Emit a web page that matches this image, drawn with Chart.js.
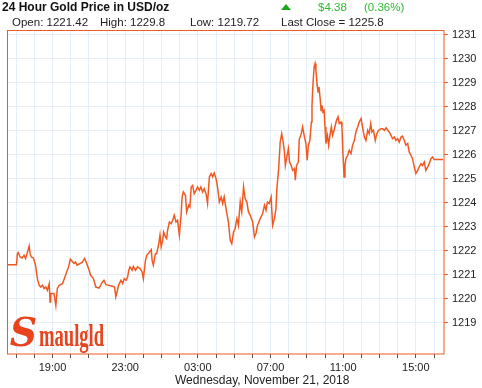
<!DOCTYPE html>
<html><head><meta charset="utf-8">
<script src="https://cdn.jsdelivr.net/npm/chart.js@4.4.0/dist/chart.umd.min.js"></script>
<style>
body{margin:0;background:#fff;}
#wrap{position:relative;width:482px;height:388px;font-family:"Liberation Sans",Arial,sans-serif;color:#222;overflow:hidden;}
canvas{position:absolute;left:0;top:0;}
.t{position:absolute;white-space:nowrap;}
</style></head><body>
<div id="wrap">
<canvas id="c" width="482" height="388"></canvas>
<div class="t" style="left:2px;top:0px;font:bold 12px/15px 'Liberation Sans';color:#111;">24 Hour Gold Price in USD/oz</div>
<div class="t" style="left:281px;top:4px;width:0;height:0;border-left:5px solid transparent;border-right:5px solid transparent;border-bottom:6px solid #1aa51a;"></div>
<div class="t" style="left:318px;top:0px;font:11.5px/15px 'Liberation Sans';color:#2eb82e;">$4.38</div>
<div class="t" style="left:364px;top:0px;font:11.5px/15px 'Liberation Sans';color:#2eb82e;">(0.36%)</div>
<div class="t" style="left:12px;top:15px;font:11.5px/15px 'Liberation Sans';color:#222;">Open: 1221.42</div>
<div class="t" style="left:100px;top:15px;font:11.5px/15px 'Liberation Sans';color:#222;">High: 1229.8</div>
<div class="t" style="left:190px;top:15px;font:11.5px/15px 'Liberation Sans';color:#222;">Low: 1219.72</div>
<div class="t" style="left:281px;top:15px;font:11.5px/15px 'Liberation Sans';color:#222;">Last Close = 1225.8</div>
<div class="t" style="left:175px;top:373px;width:168px;text-align:center;font:12px/14px 'Liberation Sans';color:#222;">Wednesday, November 21, 2018</div>
<div class="t" style="left:9px;top:313px;color:#e8431c;">
  <span style="display:inline-block;font:italic bold 40px/38px 'DejaVu Serif';transform:scaleX(0.95);">S</span><span style="display:inline-block;font:bold 31px/38px 'Liberation Serif';transform:scaleX(0.6);transform-origin:0 50%;margin-left:1px;">maulgld</span>
</div>
</div>
<script>
const times = ["16:30","17:01","17:04","17:07","17:13","17:20","17:26","17:31","17:37","17:43","17:46","17:50","17:57","18:04","18:10","18:16","18:21","18:27","18:32","18:38","18:43","18:49","18:52","18:54","19:00","19:05","19:11","19:16","19:22","19:33","19:43","19:53","19:59","20:11","20:16","20:21","20:39","20:46","20:53","21:01","21:06","21:15","21:23","21:34","21:45","21:50","21:56","22:07","22:18","22:25","22:29","22:32","22:38","22:46","22:52","22:57","23:03","23:08","23:12","23:16","23:23","23:27","23:34","23:41","23:49","23:56","00:00","00:07","00:11","00:18","00:26","00:29","00:33","00:40","00:44","00:51","00:55","00:59","01:04","01:07","01:13","01:17","01:20","01:26","01:32","01:37","01:42","01:48","01:53","01:59","02:05","02:08","02:12","02:19","02:23","02:30","02:34","02:38","02:43","02:48","02:54","02:59","03:05","03:10","03:16","03:21","03:27","03:32","03:38","03:44","03:49","03:54","04:00","04:05","04:11","04:17","04:22","04:27","04:33","04:41","04:47","04:52","04:58","05:03","05:09","05:14","05:20","05:25","05:31","05:36","05:42","05:47","05:53","06:01","06:07","06:12","06:17","06:26","06:34","06:40","06:45","06:50","06:56","07:02","07:07","07:13","07:18","07:21","07:27","07:32","07:37","07:41","07:46","07:49","07:53","07:59","08:03","08:08","08:13","08:19","08:22","08:26","08:32","08:35","08:41","08:46","08:52","08:57","09:01","09:05","09:10","09:15","09:17","09:20","09:24","09:27","09:30","09:34","09:37","09:40","09:44","09:47","09:50","09:53","09:57","10:00","10:03","10:08","10:12","10:17","10:21","10:25","10:30","10:34","10:38","10:43","10:47","10:53","10:56","10:59","11:03","11:06","11:09","11:15","11:20","11:26","11:31","11:37","11:42","11:48","11:53","11:59","12:04","12:10","12:15","12:21","12:26","12:31","12:35","12:40","12:46","12:51","12:57","13:05","13:10","13:16","13:22","13:27","13:32","13:38","13:43","13:49","13:54","14:00","14:05","14:11","14:16","14:22","14:27","14:33","14:38","14:44","14:49","14:55","15:00","15:06","15:11","15:17","15:22","15:28","15:33","15:39","15:44","15:50","15:55","16:01","16:30"];
const prices = [1221.42,1221.42,1221.88,1221.93,1221.74,1221.70,1221.81,1221.68,1221.93,1222.20,1221.88,1221.74,1221.70,1221.40,1220.84,1220.56,1220.49,1220.56,1220.43,1220.49,1220.35,1220.63,1219.87,1220.23,1220.22,1220.22,1219.72,1220.43,1220.56,1220.63,1220.98,1221.33,1221.65,1221.47,1221.53,1221.40,1221.53,1221.68,1221.47,1221.19,1220.98,1220.84,1220.49,1220.45,1220.70,1220.77,1220.59,1220.56,1220.52,1220.49,1220.08,1220.22,1220.56,1220.77,1220.63,1220.84,1220.77,1220.91,1221.19,1221.33,1221.19,1221.35,1221.19,1221.33,1221.26,1221.12,1220.84,1221.60,1221.81,1221.91,1222.05,1221.60,1221.40,1221.88,1221.88,1222.30,1222.65,1222.16,1222.44,1222.78,1222.58,1222.51,1222.85,1223.20,1223.13,1223.27,1223.48,1223.20,1223.27,1222.65,1223.55,1224.24,1224.45,1224.31,1223.62,1223.90,1223.83,1224.66,1224.73,1224.38,1224.52,1224.66,1224.52,1224.66,1224.45,1224.59,1224.38,1223.97,1225.08,1225.22,1225.08,1225.24,1225.01,1224.66,1224.03,1224.24,1223.97,1224.25,1223.76,1223.20,1222.44,1222.30,1222.78,1222.93,1223.34,1223.06,1224.03,1223.62,1224.66,1224.18,1224.03,1223.62,1223.48,1223.20,1222.58,1222.72,1223.06,1223.34,1223.55,1223.90,1223.69,1224.03,1223.97,1224.24,1223.06,1223.34,1223.76,1224.59,1225.43,1226.53,1226.88,1226.60,1226.12,1225.56,1225.84,1226.26,1225.70,1225.56,1225.35,1225.43,1224.94,1225.56,1225.70,1226.65,1226.85,1227.16,1226.75,1226.47,1225.77,1226.40,1226.60,1227.37,1228.06,1228.90,1229.66,1229.80,1229.52,1228.90,1228.62,1228.83,1228.34,1227.85,1228.06,1227.78,1227.85,1227.16,1226.47,1226.81,1226.40,1226.88,1227.16,1226.81,1227.02,1227.23,1227.44,1227.58,1227.30,1227.37,1227.16,1226.12,1225.08,1225.56,1225.84,1225.98,1226.19,1226.05,1226.40,1226.60,1226.95,1227.16,1227.37,1227.51,1227.16,1226.74,1226.60,1227.02,1226.88,1227.30,1226.95,1227.02,1226.60,1226.88,1227.02,1227.09,1227.09,1227.02,1227.12,1227.02,1226.95,1226.81,1226.68,1226.74,1226.60,1226.68,1226.53,1226.74,1226.78,1226.60,1226.40,1226.47,1226.12,1225.98,1225.84,1225.49,1225.22,1225.35,1225.49,1225.63,1225.56,1225.70,1225.35,1225.49,1225.63,1225.84,1225.91,1225.80,1225.80];
const xTickHours = [17,18,19,20,21,22,23,24,25,26,27,28,29,30,31,32,33,34,35,36,37,38,39,40];
const xLabelHours = [19,23,27,31,35,39];
const yTicks = [1219,1220,1221,1222,1223,1224,1225,1226,1227,1228,1229,1230,1231];
const xMin = 16.55, xMax = 40.55, yMin = 1217.7, yMax = 1231.2;

// convert clock times to continuous hours (rolling past midnight)
const hours = [];
let prev = -1, dayAdd = 0;
times.forEach(t => {
  const [h, m] = t.split(':').map(Number);
  let v = h + m / 60 + dayAdd;
  if (v < prev) { dayAdd += 24; v += 24; }
  hours.push(v); prev = v;
});
const points = hours.map((h, i) => ({x: h, y: prices[i]}));

const ORANGE = '#ee5b24';
const borderPlugin = {
  id: 'frame',
  afterDraw(chart) {
    const {ctx, chartArea: a} = chart;
    ctx.save();
    ctx.strokeStyle = ORANGE;
    ctx.lineWidth = 1;
    ctx.strokeRect(a.left - 0.5, a.top + 0.5, a.right - a.left + 0.5, a.bottom - a.top - 0.5);
    ctx.restore();
  }
};

Chart.defaults.font.family = "'Liberation Sans', Arial, sans-serif";
new Chart(document.getElementById('c'), {
  type: 'line',
  data: { datasets: [{
    data: points,
    borderColor: '#f05a22',
    borderWidth: 1.5,
    pointRadius: 0,
    tension: 0,
    fill: false
  }]},
  options: {
    responsive: false,
    animation: false,
    layout: { padding: { left: 8, top: 30, right: 0, bottom: 0 } },
    plugins: { legend: { display: false }, tooltip: { enabled: false } },
    scales: {
      x: {
        type: 'linear', min: xMin, max: xMax,
        afterFit(s) { s.height = 34; },
        afterBuildTicks(s) { s.ticks = xTickHours.map(v => ({value: v})); },
        border: { display: false },
        grid: { color: '#e4eef8', lineWidth: 1, tickColor: '#555', tickLength: 4 },
        ticks: {
          autoSkip: false, maxRotation: 0, padding: 3,
          color: '#222', font: { size: 11 },
          callback(v) {
            if (!xLabelHours.includes(v)) return '';
            const h = v % 24;
            return (h < 10 ? '0' : '') + h + ':00';
          }
        }
      },
      y: {
        position: 'right', min: yMin, max: yMax,
        afterFit(s) { s.width = 38; },
        afterBuildTicks(s) { s.ticks = yTicks.map(v => ({value: v})); },
        border: { display: false },
        grid: { color: '#e4eef8', lineWidth: 1, tickColor: ORANGE, tickLength: 4 },
        ticks: { padding: 4, color: '#222', font: { size: 11 }, callback: v => String(v) }
      }
    }
  },
  plugins: [borderPlugin]
});
</script>
</body></html>
